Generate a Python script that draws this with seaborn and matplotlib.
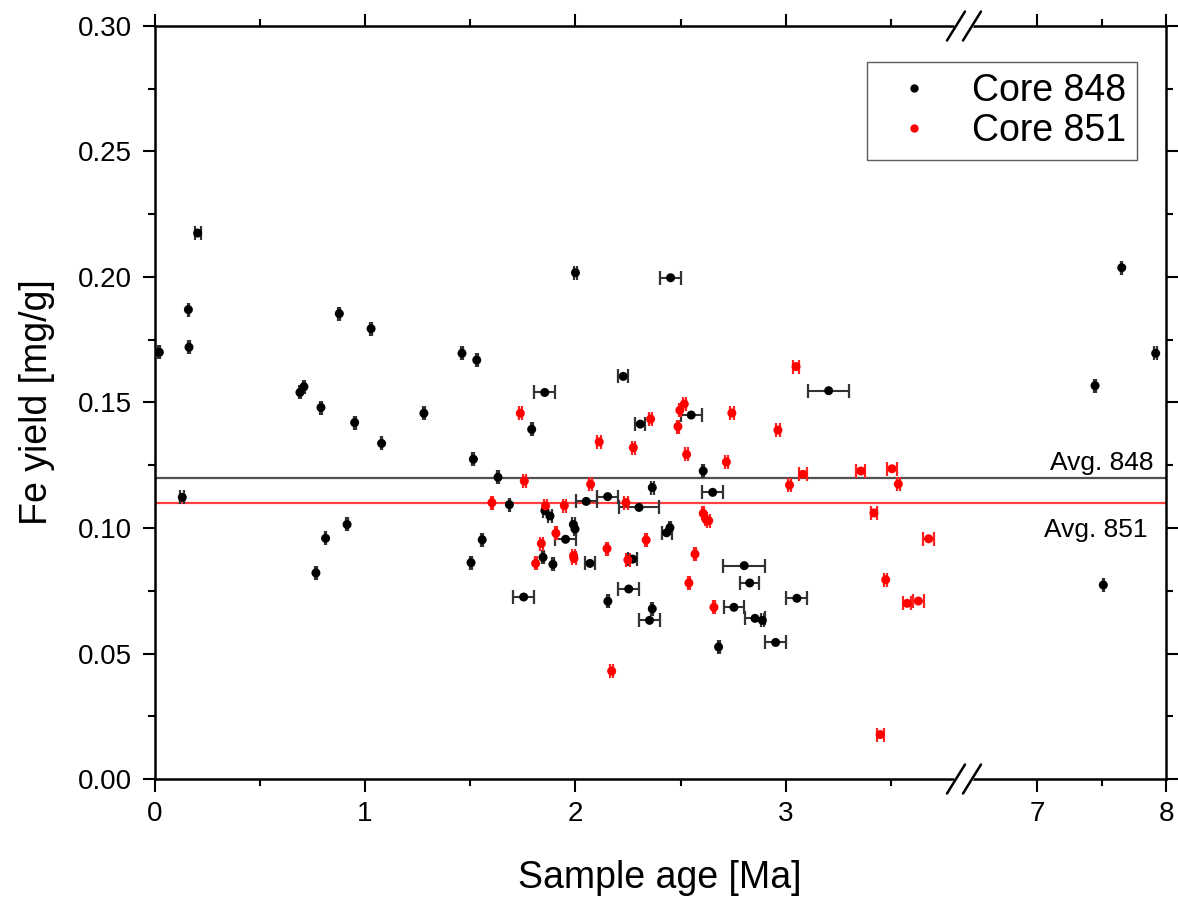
import numpy as np
import pandas as pd
import matplotlib
matplotlib.use("Agg")
import matplotlib.pyplot as plt
import seaborn as sns
from matplotlib.lines import Line2D
from matplotlib.ticker import MultipleLocator, FixedLocator

# ---------------- data ----------------
age_848 = [0.023, 0.132, 0.161, 0.164, 0.205, 0.691, 0.710, 0.767, 0.791, 0.813,
           0.878, 0.915, 0.951, 1.029, 1.079, 1.280, 1.461, 1.504, 1.515, 1.531,
           1.557, 1.632, 1.686, 1.754, 1.792, 1.846, 1.854, 1.855, 1.879, 1.893,
           1.953, 1.990, 1.998, 2.000, 2.051, 2.069, 2.153, 2.154, 2.227, 2.253,
           2.272, 2.302, 2.308, 2.352, 2.365, 2.365, 2.433, 2.449, 2.452, 2.550,
           2.607, 2.652, 2.680, 2.753, 2.802, 2.828, 2.853, 2.888, 2.951, 3.052,
           3.203, 7.450, 7.514, 7.657, 7.920]
fe_848 = [0.1700, 0.1122, 0.1870, 0.1720, 0.2175, 0.1540, 0.1563, 0.0821, 0.1480, 0.0959,
          0.1854, 0.1014, 0.1420, 0.1794, 0.1337, 0.1457, 0.1696, 0.0862, 0.1274, 0.1669,
          0.0953, 0.1202, 0.1093, 0.0725, 0.1393, 0.0883, 0.1540, 0.1069, 0.1048, 0.0855,
          0.0955, 0.1014, 0.0996, 0.2017, 0.1106, 0.0859, 0.1125, 0.0708, 0.1604, 0.0757,
          0.0876, 0.1082, 0.1414, 0.0632, 0.0678, 0.1161, 0.0981, 0.1001, 0.1997, 0.1450,
          0.1227, 0.1142, 0.0526, 0.0684, 0.0850, 0.0781, 0.0640, 0.0632, 0.0544, 0.0720,
          0.1547, 0.1567, 0.0773, 0.2037, 0.1696]
err_848 = [0.005, 0.010, 0.004, 0.004, 0.014, 0.004, 0.006, 0.004, 0.004, 0.004,
           0.004, 0.004, 0.004, 0.004, 0.004, 0.004, 0.005, 0.004, 0.005, 0.005,
           0.004, 0.004, 0.004, 0.050, 0.004, 0.004, 0.051, 0.008, 0.008, 0.004,
           0.048, 0.006, 0.006, 0.005, 0.050, 0.022, 0.051, 0.005, 0.024, 0.049,
           0.022, 0.097, 0.024, 0.049, 0.005, 0.008, 0.024, 0.006, 0.049, 0.050,
           0.006, 0.050, 0.005, 0.048, 0.099, 0.044, 0.048, 0.008, 0.049, 0.050,
           0.099, 0.005, 0.005, 0.005, 0.010]

age_851 = [1.603, 1.738, 1.757, 1.811, 1.838, 1.858, 1.907, 1.947, 1.991, 1.993,
           2.072, 2.113, 2.150, 2.172, 2.240, 2.249, 2.275, 2.336, 2.357, 2.487,
           2.496, 2.517, 2.528, 2.539, 2.568, 2.607, 2.620, 2.633, 2.658, 2.717,
           2.743, 2.962, 3.017, 3.048, 3.081, 3.356, 3.418, 3.448, 3.474, 3.504,
           3.534, 3.576, 3.629, 3.678]
fe_851 = [0.1101, 0.1457, 0.1187, 0.0859, 0.0938, 0.1088, 0.0979, 0.1089, 0.0890, 0.0879,
          0.1174, 0.1343, 0.0918, 0.0430, 0.1101, 0.0873, 0.1320, 0.0952, 0.1434, 0.1404,
          0.1469, 0.1494, 0.1293, 0.0781, 0.0896, 0.1058, 0.1034, 0.1029, 0.0684, 0.1263,
          0.1458, 0.1390, 0.1171, 0.1643, 0.1214, 0.1227, 0.1060, 0.0177, 0.0794, 0.1236,
          0.1175, 0.0700, 0.0709, 0.0957]
err_851 = [0.005, 0.008, 0.008, 0.005, 0.006, 0.008, 0.005, 0.008, 0.008, 0.008,
           0.008, 0.010, 0.005, 0.008, 0.008, 0.008, 0.008, 0.005, 0.008, 0.006,
           0.006, 0.006, 0.006, 0.006, 0.006, 0.006, 0.006, 0.006, 0.006, 0.006,
           0.008, 0.008, 0.005, 0.016, 0.017, 0.022, 0.016, 0.016, 0.008, 0.022,
           0.008, 0.019, 0.025, 0.025]

avg_848 = 0.120
avg_851 = 0.110
core_labels = ["Core 848", "Core 851"]
x_major_left = [0, 1, 2, 3]
x_major_right = [7, 8]

# ---------------- style ----------------
sns.set_theme(style="ticks")
plt.rcParams['font.family'] = ['Liberation Sans', 'DejaVu Sans']
plt.rcParams['text.color'] = 'black'
plt.rcParams['axes.labelcolor'] = 'black'
plt.rcParams['xtick.color'] = 'black'
plt.rcParams['ytick.color'] = 'black'

df = pd.concat([
    pd.DataFrame({"age": age_848, "fe": fe_848, "err": err_848, "core": core_labels[0]}),
    pd.DataFrame({"age": age_851, "fe": fe_851, "err": err_851, "core": core_labels[1]}),
], ignore_index=True)
palette = {core_labels[0]: "#000000", core_labels[1]: "#ff0000"}
ecolors = {core_labels[0]: "#333333", core_labels[1]: "#ff2020"}

W, H = 1178, 899
fig = plt.figure(figsize=(W / 100, H / 100), dpi=100)
L, R, B, T = 154.5 / W, 1166 / W, 1 - 779 / H, 1 - 26 / H
xj = 964 / W
axL = fig.add_axes([L, B, xj - L, T - B])
axR = fig.add_axes([xj, B, R - xj, T - B], sharey=axL)

left_lim = (0, 3.846)
right_lim = (6.434, 8.0)

for ax, lim in ((axL, left_lim), (axR, right_lim)):
    sub = df[(df.age >= lim[0]) & (df.age <= lim[1] + 0.1)]
    for core in core_labels:
        s = sub[sub.core == core]
        ax.errorbar(s.age, s.fe, xerr=s.err, fmt="none", ecolor=ecolors[core],
                    elinewidth=1.5, capsize=5, capthick=1.6, zorder=2)
    sns.scatterplot(data=sub, x="age", y="fe", hue="core", palette=palette,
                    hue_order=core_labels, s=42, linewidth=0, ax=ax,
                    legend=False, zorder=3)
    ax.axhline(avg_848, color="#505050", lw=1.6, zorder=1)
    ax.axhline(avg_851, color="#ff4040", lw=1.6, zorder=1)
    ax.set_xlim(*lim)
    ax.set_ylim(0, 0.30)
    ax.set_xlabel("")
    ax.set_ylabel("")
    for sp in ax.spines.values():
        sp.set_linewidth(1.8)
        sp.set_color("black")
    ax.tick_params(axis="both", which="major", length=9, width=1.5,
                   direction="out", labelsize=20, pad=7, colors="black",
                   labelcolor="black")
    ax.tick_params(axis="both", which="minor", length=5, width=1.5,
                   direction="out", colors="black")
    ax.yaxis.set_major_locator(MultipleLocator(0.05))
    ax.yaxis.set_minor_locator(MultipleLocator(0.025))

axL.spines["right"].set_visible(False)
axR.spines["left"].set_visible(False)

axL.xaxis.set_major_locator(FixedLocator(x_major_left))
axL.xaxis.set_minor_locator(FixedLocator([0.5, 1.5, 2.5, 3.5]))
axR.xaxis.set_major_locator(FixedLocator(x_major_right))
axR.xaxis.set_minor_locator(FixedLocator([7.5]))

axL.tick_params(axis="x", which="both", top=True, labeltop=False)
axL.tick_params(axis="y", which="both", left=True, right=False)
axL.yaxis.set_major_formatter(matplotlib.ticker.FormatStrFormatter("%.2f"))
axR.tick_params(axis="x", which="both", top=True, labeltop=False)
axR.tick_params(axis="y", which="both", left=False, right=True,
                labelleft=False, labelright=False)

# average annotations
axR.text(7.90, avg_848 + 0.003, "Avg. 848", ha="right", va="baseline",
         fontsize=19, color="black")
axR.text(7.86, 0.0992, "Avg. 851", ha="right", va="center",
         fontsize=19, color="black")

# axis break marks (figure coordinates)
for ypix in (26, 779):
    Y = H - ypix
    fig.add_artist(Line2D([957 / W, 971 / W], [Y / H, Y / H], color="white",
                          lw=4, transform=fig.transFigure, zorder=5))
    for cx in (956, 972):
        fig.add_artist(Line2D([(cx - 9) / W, (cx + 9) / W],
                              [(Y - 14.5) / H, (Y + 14.5) / H], color="black",
                              lw=1.8, transform=fig.transFigure, zorder=6))

# axis labels
fig.text(660 / W, 1 - 878 / H, "Sample age [Ma]", ha="center", va="center",
         fontsize=27, color="black")
fig.text(37 / W, 1 - 402.5 / H, "Fe yield [mg/g]", ha="center", va="center",
         rotation=90, fontsize=27, color="black")

# legend
handles = [Line2D([], [], marker="o", linestyle="none", markersize=6,
                  markerfacecolor=palette[c], markeredgewidth=0) for c in core_labels]
leg = fig.legend(handles, core_labels, loc="upper right",
                 bbox_to_anchor=(1137 / W, 1 - 62 / H), bbox_transform=fig.transFigure,
                 frameon=True, fancybox=False, fontsize=27, handlelength=1.9,
                 handletextpad=0.59, borderpad=0.3, labelspacing=0.1,
                 borderaxespad=0)
leg.get_frame().set_edgecolor("#333333")
leg.get_frame().set_linewidth(1.0)
for t in leg.get_texts():
    t.set_color("black")

fig.savefig("out.png", dpi=100)
